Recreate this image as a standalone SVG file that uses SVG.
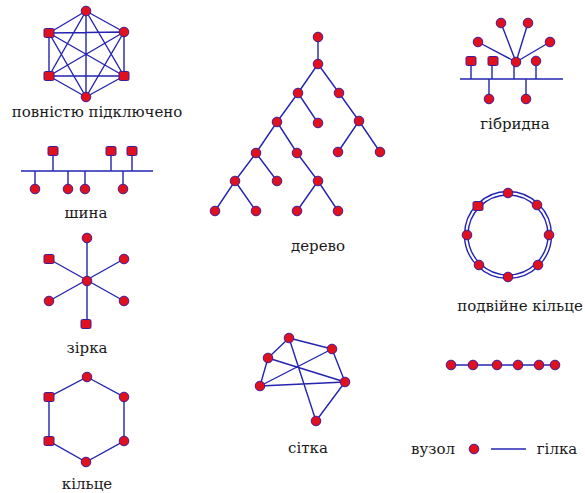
<svg xmlns="http://www.w3.org/2000/svg" width="585" height="493" viewBox="0 0 585 493">
<style>
.e{stroke:#2424b0;stroke-width:1.4;fill:none}
.n{fill:#e0101e;stroke:#3c1c9c;stroke-width:1}
.t{font-family:"DejaVu Serif","Liberation Serif",serif;font-size:15px;fill:#1a1a1a;text-anchor:middle}
</style>
<defs>
<circle id="nd" r="4.8" class="n"/>
<rect id="sq" x="-5" y="-4.5" width="10" height="9" rx="1.5" class="n"/>
</defs>
<rect width="585" height="493" fill="#fff"/>
<g id="connectors">
<path class="e" d="M86,11L49,33M86,11L124,32M86,11L49,76M86,11L124,76M86,11L86,97M49,33L124,32M49,33L49,76M49,33L124,76M49,33L86,97M124,32L49,76M124,32L124,76M124,32L86,97M49,76L124,76M49,76L86,97M124,76L86,97"/>
<path class="e" d="M21,171H153M53,151V171M111,151V171M132,151V171M35,171V189M68,171V189M85,171V189M123,171V189"/>
<path class="e" d="M87,238V324M49,259L124,301M124,259L49,301"/>
<path class="e" d="M87,377L124,397L124,441L86,462L49,441L49,397Z"/>
<path class="e" d="M318,37V64M318,64L298,93M318,64L339,93M298,93L277,122M298,93L318,123M339,93L359,121M277,122L256,153M277,122L297,153M359,121L338,152M359,121L380,152M256,153L235,181M256,153L277,181M297,153L318,181M235,181L215,211M235,181L256,211M318,181L297,211M318,181L338,211"/>
<path class="e" d="M289,338L268,358M289,338L332,349M332,349L345,382M268,358L260,386M260,386L345,382M345,382L316,421M289,338L316,421M268,358L345,382M332,349L260,386"/>
<path class="e" d="M460,79H563M471,61V79M492,61V79M514,62V79M536,61V79M489,79V99M526,79V99M516,62L478,42M516,62L501,23M516,62L528,23M516,62L550,42"/>
<circle class="e" cx="508" cy="235" r="40" stroke-width="1.1"/>
<circle class="e" cx="508" cy="235" r="43.5" stroke-width="1.1"/>
<path class="e" d="M451,365H555"/>
<path class="e" d="M491,449H526"/>
</g>
<g id="full">
<use href="#nd" x="86" y="11"/><use href="#sq" x="49" y="33"/><use href="#nd" x="124" y="32"/>
<use href="#sq" x="49" y="76"/><use href="#sq" x="124" y="76"/><use href="#nd" x="86" y="97"/>
<text class="t" x="97" y="117">повністю підключено</text>
</g>
<g id="bus">
<use href="#sq" x="53" y="151"/><use href="#sq" x="111" y="151"/><use href="#sq" x="132" y="151"/>
<use href="#nd" x="35" y="189"/><use href="#nd" x="68" y="189"/><use href="#nd" x="85" y="189"/><use href="#nd" x="123" y="189"/>
<text class="t" x="86" y="218">шина</text>
</g>
<g id="star">
<use href="#nd" x="87" y="281"/><use href="#nd" x="87" y="238"/><use href="#sq" x="86" y="324"/>
<use href="#sq" x="49" y="259"/><use href="#nd" x="124" y="259"/><use href="#nd" x="49" y="301"/><use href="#nd" x="124" y="301"/>
<text class="t" x="87" y="353">зірка</text>
</g>
<g id="ring">
<use href="#nd" x="87" y="377"/><use href="#sq" x="49" y="397"/><use href="#nd" x="124" y="397"/>
<use href="#sq" x="49" y="441"/><use href="#nd" x="124" y="441"/><use href="#nd" x="86" y="462"/>
<text class="t" x="87" y="489">кільце</text>
</g>
<g id="tree">
<use href="#nd" x="318" y="37"/><use href="#nd" x="318" y="64"/><use href="#nd" x="298" y="93"/><use href="#nd" x="339" y="93"/>
<use href="#nd" x="277" y="122"/><use href="#nd" x="318" y="123"/><use href="#nd" x="359" y="121"/>
<use href="#nd" x="256" y="153"/><use href="#nd" x="297" y="153"/><use href="#nd" x="338" y="152"/><use href="#nd" x="380" y="152"/>
<use href="#nd" x="235" y="181"/><use href="#nd" x="277" y="181"/><use href="#nd" x="318" y="181"/>
<use href="#nd" x="215" y="211"/><use href="#nd" x="256" y="211"/><use href="#nd" x="297" y="211"/><use href="#nd" x="338" y="211"/>
<text class="t" x="318" y="251">дерево</text>
</g>
<g id="mesh">
<use href="#nd" x="289" y="338"/><use href="#nd" x="268" y="358"/><use href="#nd" x="332" y="349"/>
<use href="#nd" x="260" y="386"/><use href="#nd" x="345" y="382"/><use href="#nd" x="316" y="421"/>
<text class="t" x="308" y="453">сітка</text>
</g>
<g id="hybrid">
<use href="#nd" x="478" y="42"/><use href="#nd" x="501" y="23"/><use href="#nd" x="528" y="23"/><use href="#nd" x="550" y="42"/>
<use href="#sq" x="471" y="61"/><use href="#sq" x="493" y="61"/><use href="#nd" x="516" y="62"/><use href="#nd" x="536" y="61"/>
<use href="#nd" x="489" y="99"/><use href="#nd" x="526" y="99"/>
<text class="t" x="515" y="129">гібридна</text>
</g>
<g id="double-ring">
<use href="#nd" x="508" y="193"/><use href="#nd" x="537" y="205"/><use href="#nd" x="549" y="235"/><use href="#nd" x="538" y="265"/>
<use href="#nd" x="508" y="277"/><use href="#nd" x="479" y="265"/><use href="#nd" x="467" y="235"/><use href="#sq" x="478" y="206"/>
<text class="t" x="520" y="311">подвійне кільце</text>
</g>
<g id="chain">
<use href="#nd" x="451" y="365"/><use href="#nd" x="473" y="365"/><use href="#nd" x="497" y="365"/>
<use href="#nd" x="518" y="365"/><use href="#nd" x="539" y="365"/><use href="#nd" x="555" y="365"/>
</g>
<g id="legend">
<text class="t" x="433" y="454">вузол</text>
<use href="#nd" x="474" y="449"/>
<text class="t" x="557" y="454">гілка</text>
</g>
</svg>
